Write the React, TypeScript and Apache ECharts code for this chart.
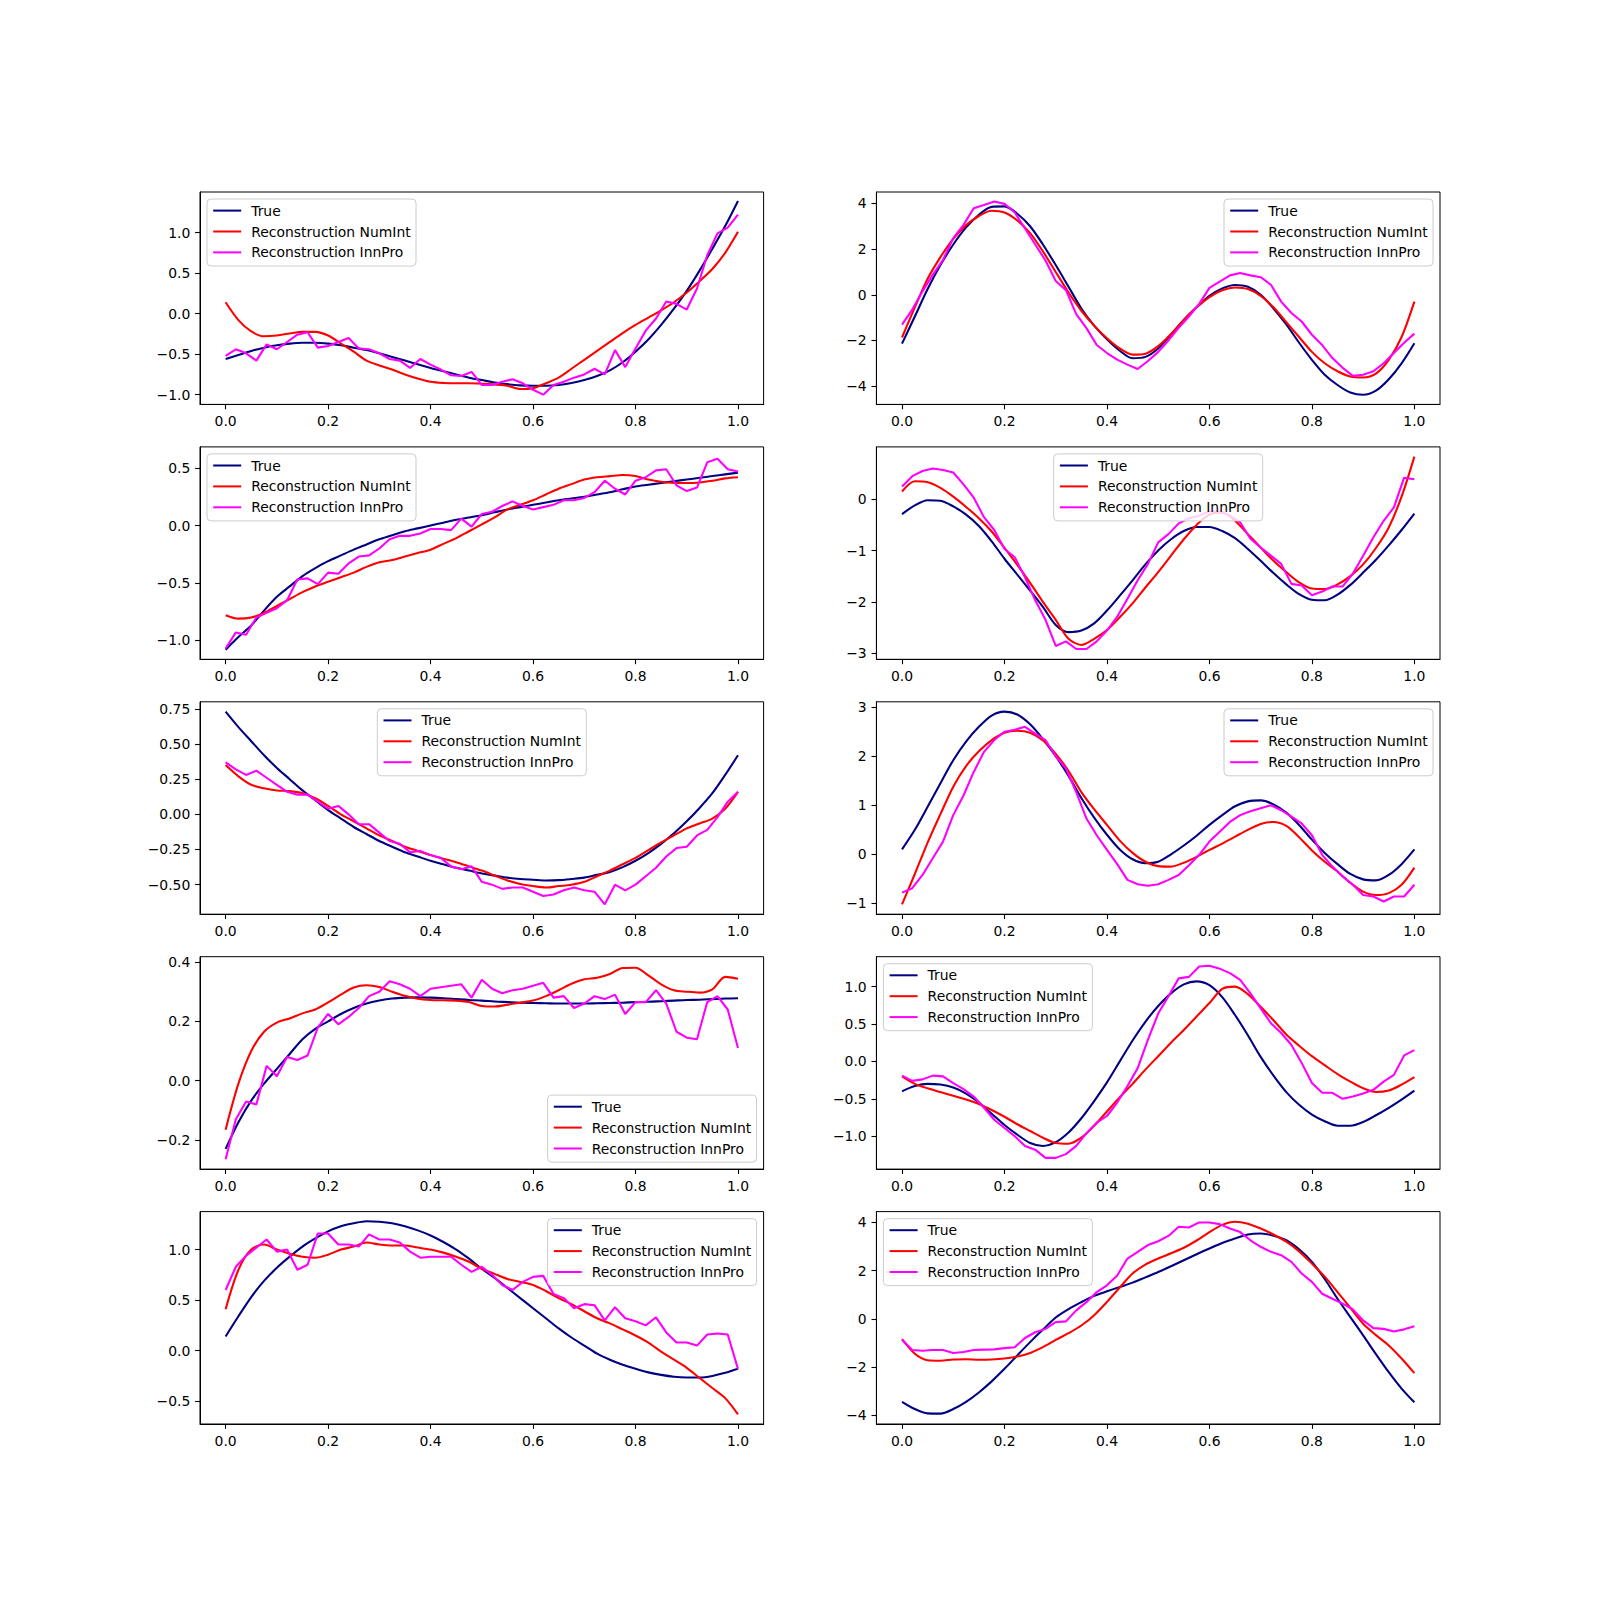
import React, { useEffect, useRef } from "react";
import * as echarts from "echarts";

const FONT = "DejaVu Sans";
const NAMES = ["True", "Reconstruction NumInt", "Reconstruction InnPro"];
const COLORS = ["#000080", "#ff0000", "#ff00ff"];

const X_SMOOTH = [0, 0.025, 0.05, 0.075, 0.1, 0.125, 0.15, 0.175, 0.2, 0.225, 0.25, 0.275, 0.3, 0.325, 0.35, 0.375, 0.4, 0.425, 0.45, 0.475, 0.5, 0.525, 0.55, 0.575, 0.6, 0.625, 0.65, 0.675, 0.7, 0.725, 0.75, 0.775, 0.8, 0.825, 0.85, 0.875, 0.9, 0.925, 0.95, 0.975, 1.0];
const X_NOISY = [0, 0.02, 0.04, 0.06, 0.08, 0.1, 0.12, 0.14, 0.16, 0.18, 0.2, 0.22, 0.24, 0.26, 0.28, 0.3, 0.32, 0.34, 0.36, 0.38, 0.4, 0.42, 0.44, 0.46, 0.48, 0.5, 0.52, 0.54, 0.56, 0.58, 0.6, 0.62, 0.64, 0.66, 0.68, 0.7, 0.72, 0.74, 0.76, 0.78, 0.8, 0.82, 0.84, 0.86, 0.88, 0.9, 0.92, 0.94, 0.96, 0.98, 1.0];
const X_TICKS = [0, 0.2, 0.4, 0.6, 0.8, 1.0];
const X_TICK_LABELS = ["0.0", "0.2", "0.4", "0.6", "0.8", "1.0"];

// Subplot 1
const true1 = [-0.56, -0.51, -0.46, -0.42, -0.39, -0.37, -0.36, -0.36, -0.37, -0.39, -0.42, -0.45, -0.49, -0.535, -0.58, -0.625, -0.67, -0.71, -0.75, -0.79, -0.82, -0.85, -0.87, -0.885, -0.89, -0.89, -0.88, -0.855, -0.82, -0.77, -0.70, -0.60, -0.47, -0.32, -0.14, 0.06, 0.28, 0.53, 0.80, 1.08, 1.39];
const num1 = [0.14, -0.08, -0.22, -0.28, -0.27, -0.245, -0.225, -0.225, -0.27, -0.37, -0.47, -0.58, -0.64, -0.69, -0.75, -0.80, -0.84, -0.855, -0.86, -0.86, -0.865, -0.875, -0.89, -0.93, -0.92, -0.86, -0.79, -0.68, -0.57, -0.46, -0.35, -0.24, -0.14, -0.05, 0.04, 0.14, 0.26, 0.40, 0.55, 0.75, 1.01];
const inn1 = [-0.52, -0.44, -0.49, -0.58, -0.38, -0.44, -0.35, -0.26, -0.23, -0.42, -0.40, -0.35, -0.30, -0.43, -0.44, -0.49, -0.56, -0.58, -0.67, -0.56, -0.63, -0.69, -0.76, -0.77, -0.72, -0.88, -0.88, -0.84, -0.81, -0.86, -0.94, -1.00, -0.88, -0.84, -0.79, -0.75, -0.68, -0.75, -0.45, -0.66, -0.43, -0.21, -0.06, 0.15, 0.12, 0.05, 0.31, 0.72, 0.99, 1.06, 1.22];
const yTicks1 = [-1, -0.5, 0, 0.5, 1];
const yLabels1 = ["\u22121.0", "\u22120.5", "0.0", "0.5", "1.0"];

// Subplot 2
const true2 = [-2.14, -0.95, 0.25, 1.3, 2.2, 2.95, 3.5, 3.85, 3.87, 3.55, 3.0, 2.2, 1.3, 0.35, -0.6, -1.35, -1.95, -2.45, -2.78, -2.72, -2.35, -1.75, -1.1, -0.55, -0.05, 0.28, 0.43, 0.35, 0.0, -0.6, -1.3, -2.1, -2.85, -3.5, -3.95, -4.28, -4.38, -4.2, -3.7, -3.0, -2.12];
const num2 = [-1.87, -0.55, 0.7, 1.65, 2.45, 3.05, 3.45, 3.68, 3.6, 3.25, 2.7, 1.9, 1.0, 0.1, -0.7, -1.35, -1.9, -2.35, -2.62, -2.58, -2.25, -1.72, -1.1, -0.55, -0.1, 0.2, 0.32, 0.25, -0.05, -0.55, -1.2, -1.85, -2.5, -3.0, -3.35, -3.58, -3.62, -3.45, -2.85, -1.85, -0.3];
const inn2 = [-1.31, -0.65, 0.15, 0.87, 1.53, 2.48, 3.06, 3.79, 3.93, 4.08, 3.98, 3.6, 2.9, 2.2, 1.5, 0.6, 0.2, -0.85, -1.46, -2.2, -2.55, -2.84, -3.06, -3.25, -2.9, -2.5, -2.0, -1.45, -0.95, -0.4, 0.3, 0.58, 0.85, 0.95, 0.85, 0.77, 0.44, -0.3, -0.8, -1.17, -1.75, -2.2, -2.77, -3.2, -3.55, -3.5, -3.35, -3.0, -2.55, -2.1, -1.7];
const yTicks2 = [-4, -2, 0, 2, 4];
const yLabels2 = ["\u22124", "\u22122", "0", "2", "4"];

// Subplot 3
const true3 = [-1.08, -0.97, -0.87, -0.74, -0.62, -0.53, -0.44, -0.37, -0.31, -0.26, -0.21, -0.165, -0.12, -0.085, -0.05, -0.025, 0.0, 0.025, 0.05, 0.07, 0.09, 0.115, 0.14, 0.16, 0.18, 0.2, 0.22, 0.235, 0.25, 0.27, 0.29, 0.315, 0.34, 0.355, 0.37, 0.385, 0.40, 0.415, 0.43, 0.445, 0.46];
const num3 = [-0.78, -0.81, -0.80, -0.76, -0.70, -0.64, -0.58, -0.53, -0.49, -0.45, -0.41, -0.36, -0.32, -0.30, -0.27, -0.24, -0.21, -0.16, -0.11, -0.05, 0.01, 0.07, 0.14, 0.18, 0.22, 0.27, 0.32, 0.36, 0.40, 0.42, 0.43, 0.44, 0.43, 0.40, 0.38, 0.37, 0.37, 0.375, 0.39, 0.41, 0.42];
const inn3 = [-1.07, -0.93, -0.95, -0.80, -0.76, -0.72, -0.65, -0.47, -0.46, -0.51, -0.41, -0.42, -0.33, -0.27, -0.26, -0.20, -0.12, -0.09, -0.09, -0.07, -0.03, -0.03, -0.04, 0.06, -0.01, 0.10, 0.12, 0.17, 0.21, 0.17, 0.14, 0.16, 0.18, 0.22, 0.22, 0.24, 0.29, 0.39, 0.32, 0.27, 0.39, 0.42, 0.48, 0.49, 0.35, 0.30, 0.33, 0.55, 0.58, 0.49, 0.47];
const yTicks3 = [-1, -0.5, 0, 0.5];
const yLabels3 = ["\u22121.0", "\u22120.5", "0.0", "0.5"];

// Subplot 4
const true4 = [-0.29, -0.12, -0.02, -0.03, -0.14, -0.3, -0.52, -0.82, -1.16, -1.47, -1.78, -2.1, -2.45, -2.59, -2.56, -2.42, -2.17, -1.88, -1.58, -1.27, -1.0, -0.78, -0.62, -0.54, -0.54, -0.62, -0.76, -0.97, -1.2, -1.44, -1.66, -1.85, -1.96, -1.97, -1.86, -1.67, -1.43, -1.18, -0.9, -0.6, -0.28];
const num4 = [0.15, 0.35, 0.33, 0.22, 0.05, -0.15, -0.37, -0.63, -0.95, -1.28, -1.63, -2.0, -2.35, -2.72, -2.84, -2.72, -2.55, -2.3, -2.03, -1.72, -1.42, -1.1, -0.78, -0.5, -0.3, -0.26, -0.42, -0.68, -0.94, -1.2, -1.42, -1.62, -1.74, -1.75, -1.66, -1.5, -1.27, -0.95, -0.55, 0.05, 0.83];
const inn4 = [0.25, 0.45, 0.55, 0.60, 0.57, 0.52, 0.29, 0.03, -0.35, -0.6, -0.97, -1.13, -1.52, -1.97, -2.35, -2.86, -2.77, -2.92, -2.92, -2.77, -2.56, -2.29, -1.94, -1.58, -1.26, -0.84, -0.68, -0.47, -0.37, -0.32, -0.24, -0.24, -0.32, -0.45, -0.77, -0.94, -1.1, -1.26, -1.65, -1.68, -1.87, -1.8, -1.7, -1.7, -1.45, -1.1, -0.74, -0.42, -0.16, 0.42, 0.39];
const yTicks4 = [-3, -2, -1, 0];
const yLabels4 = ["\u22123", "\u22122", "\u22121", "0"];

// Subplot 5
const true5 = [0.73, 0.62, 0.52, 0.42, 0.33, 0.25, 0.17, 0.10, 0.03, -0.03, -0.09, -0.14, -0.19, -0.23, -0.27, -0.30, -0.33, -0.355, -0.38, -0.40, -0.42, -0.435, -0.45, -0.46, -0.465, -0.47, -0.468, -0.46, -0.45, -0.43, -0.41, -0.375, -0.33, -0.275, -0.21, -0.135, -0.05, 0.045, 0.15, 0.28, 0.42];
const num5 = [0.35, 0.27, 0.21, 0.185, 0.17, 0.165, 0.15, 0.115, 0.06, 0.0, -0.05, -0.10, -0.15, -0.19, -0.23, -0.26, -0.29, -0.315, -0.34, -0.37, -0.40, -0.435, -0.47, -0.495, -0.51, -0.52, -0.51, -0.50, -0.48, -0.44, -0.40, -0.355, -0.31, -0.255, -0.20, -0.15, -0.10, -0.065, -0.03, 0.04, 0.16];
const inn5 = [0.37, 0.32, 0.28, 0.31, 0.26, 0.21, 0.16, 0.14, 0.14, 0.09, 0.04, 0.06, 0.0, -0.07, -0.07, -0.13, -0.19, -0.21, -0.27, -0.26, -0.29, -0.31, -0.37, -0.39, -0.37, -0.48, -0.50, -0.53, -0.52, -0.52, -0.55, -0.58, -0.57, -0.54, -0.52, -0.54, -0.55, -0.64, -0.50, -0.54, -0.50, -0.44, -0.38, -0.30, -0.24, -0.23, -0.15, -0.11, -0.02, 0.09, 0.16];
const yTicks5 = [-0.5, -0.25, 0, 0.25, 0.5, 0.75];
const yLabels5 = ["\u22120.50", "\u22120.25", "0.00", "0.25", "0.50", "0.75"];

// Subplot 6
const true6 = [0.1, 0.5, 0.97, 1.45, 1.92, 2.3, 2.6, 2.83, 2.91, 2.85, 2.65, 2.35, 2.0, 1.6, 1.15, 0.75, 0.4, 0.1, -0.1, -0.18, -0.15, 0.0, 0.18, 0.38, 0.6, 0.8, 0.98, 1.08, 1.1, 1.02, 0.85, 0.6, 0.3, 0.03, -0.2, -0.4, -0.51, -0.53, -0.42, -0.2, 0.1];
const num6 = [-1.02, -0.4, 0.24, 0.82, 1.38, 1.8, 2.1, 2.33, 2.48, 2.52, 2.48, 2.32, 2.05, 1.7, 1.27, 0.92, 0.6, 0.28, 0.03, -0.15, -0.24, -0.25, -0.17, -0.05, 0.09, 0.22, 0.36, 0.5, 0.62, 0.66, 0.58, 0.35, 0.08, -0.15, -0.35, -0.58, -0.76, -0.83, -0.79, -0.62, -0.27];
const inn6 = [-0.78, -0.69, -0.42, -0.08, 0.26, 0.8, 1.2, 1.68, 2.09, 2.33, 2.5, 2.54, 2.6, 2.46, 2.33, 2.0, 1.75, 1.27, 0.73, 0.39, 0.09, -0.2, -0.52, -0.61, -0.64, -0.61, -0.52, -0.42, -0.22, -0.01, 0.26, 0.46, 0.66, 0.8, 0.88, 0.94, 1.0, 0.9, 0.77, 0.63, 0.39, -0.01, -0.25, -0.45, -0.62, -0.83, -0.86, -0.96, -0.86, -0.86, -0.62];
const yTicks6 = [-1, 0, 1, 2, 3];
const yLabels6 = ["\u22121", "0", "1", "2", "3"];

// Subplot 7
const true7 = [-0.23, -0.14, -0.067, -0.01, 0.04, 0.09, 0.14, 0.175, 0.20, 0.225, 0.245, 0.26, 0.27, 0.277, 0.28, 0.281, 0.28, 0.278, 0.275, 0.272, 0.27, 0.267, 0.265, 0.263, 0.262, 0.261, 0.26, 0.26, 0.26, 0.261, 0.262, 0.263, 0.265, 0.266, 0.268, 0.27, 0.272, 0.273, 0.275, 0.277, 0.278];
const num7 = [-0.165, -0.01, 0.10, 0.165, 0.196, 0.21, 0.227, 0.24, 0.264, 0.29, 0.314, 0.322, 0.316, 0.30, 0.286, 0.276, 0.272, 0.271, 0.27, 0.265, 0.252, 0.25, 0.256, 0.263, 0.27, 0.285, 0.305, 0.327, 0.342, 0.347, 0.36, 0.38, 0.381, 0.355, 0.325, 0.305, 0.30, 0.297, 0.308, 0.35, 0.344];
const inn7 = [-0.265, -0.13, -0.07, -0.08, 0.05, 0.015, 0.08, 0.07, 0.085, 0.18, 0.225, 0.19, 0.215, 0.245, 0.285, 0.30, 0.335, 0.325, 0.31, 0.285, 0.31, 0.315, 0.32, 0.325, 0.28, 0.34, 0.31, 0.295, 0.305, 0.31, 0.32, 0.33, 0.28, 0.285, 0.245, 0.26, 0.285, 0.275, 0.29, 0.225, 0.265, 0.265, 0.305, 0.26, 0.165, 0.145, 0.14, 0.265, 0.285, 0.24, 0.11];
const yTicks7 = [-0.2, 0, 0.2, 0.4];
const yLabels7 = ["\u22120.2", "0.0", "0.2", "0.4"];

// Subplot 8
const true8 = [-0.40, -0.33, -0.30, -0.31, -0.35, -0.43, -0.55, -0.70, -0.85, -0.98, -1.09, -1.13, -1.08, -0.95, -0.76, -0.53, -0.28, 0.0, 0.28, 0.53, 0.74, 0.91, 1.03, 1.07, 1.02, 0.86, 0.62, 0.35, 0.06, -0.19, -0.41, -0.58, -0.71, -0.80, -0.86, -0.86, -0.81, -0.72, -0.62, -0.51, -0.39];
const num8 = [-0.20, -0.30, -0.36, -0.41, -0.46, -0.51, -0.57, -0.65, -0.74, -0.84, -0.93, -1.02, -1.09, -1.10, -1.02, -0.86, -0.67, -0.48, -0.3, -0.11, 0.07, 0.25, 0.42, 0.6, 0.78, 0.97, 1.0, 0.9, 0.73, 0.55, 0.36, 0.21, 0.07, -0.05, -0.17, -0.27, -0.36, -0.41, -0.39, -0.31, -0.21];
const inn8 = [-0.19, -0.26, -0.24, -0.19, -0.2, -0.29, -0.37, -0.47, -0.62, -0.78, -0.89, -1.0, -1.13, -1.18, -1.29, -1.29, -1.24, -1.13, -0.96, -0.82, -0.73, -0.55, -0.33, -0.09, 0.29, 0.64, 0.87, 1.11, 1.13, 1.27, 1.28, 1.24, 1.18, 1.09, 0.91, 0.71, 0.51, 0.38, 0.22, -0.02, -0.29, -0.42, -0.42, -0.5, -0.47, -0.43, -0.38, -0.27, -0.18, 0.08, 0.15];
const yTicks8 = [-1, -0.5, 0, 0.5, 1];
const yLabels8 = ["\u22121.0", "\u22120.5", "0.0", "0.5", "1.0"];

// Subplot 9
const true9 = [0.14, 0.34, 0.53, 0.69, 0.82, 0.93, 1.03, 1.11, 1.18, 1.23, 1.26, 1.28, 1.275, 1.26, 1.23, 1.19, 1.14, 1.075, 1.0, 0.91, 0.81, 0.72, 0.62, 0.52, 0.42, 0.32, 0.22, 0.13, 0.05, -0.03, -0.09, -0.14, -0.18, -0.215, -0.24, -0.258, -0.265, -0.265, -0.25, -0.22, -0.18];
const num9 = [0.41, 0.8, 1.0, 1.05, 1.0, 0.96, 0.93, 0.92, 0.95, 1.0, 1.03, 1.07, 1.05, 1.04, 1.04, 1.02, 1.0, 0.97, 0.93, 0.88, 0.81, 0.76, 0.71, 0.68, 0.65, 0.59, 0.52, 0.46, 0.39, 0.32, 0.27, 0.21, 0.15, 0.08, -0.01, -0.09, -0.17, -0.27, -0.37, -0.47, -0.63];
const inn9 = [0.60, 0.83, 0.94, 1.02, 1.10, 0.98, 1.00, 0.80, 0.85, 1.16, 1.16, 1.05, 1.05, 1.03, 1.15, 1.10, 1.10, 1.07, 0.98, 0.92, 0.93, 0.93, 0.93, 0.85, 0.78, 0.83, 0.75, 0.65, 0.60, 0.68, 0.73, 0.74, 0.56, 0.52, 0.42, 0.46, 0.45, 0.30, 0.43, 0.32, 0.29, 0.25, 0.33, 0.18, 0.08, 0.08, 0.05, 0.16, 0.17, 0.16, -0.18];
const yTicks9 = [-0.5, 0, 0.5, 1];
const yLabels9 = ["\u22120.5", "0.0", "0.5", "1.0"];

// Subplot 10
const true10 = [-3.45, -3.75, -3.93, -3.94, -3.75, -3.45, -3.06, -2.6, -2.08, -1.52, -0.97, -0.45, 0.05, 0.4, 0.69, 0.95, 1.14, 1.32, 1.5, 1.72, 1.94, 2.18, 2.43, 2.68, 2.92, 3.15, 3.33, 3.5, 3.54, 3.45, 3.26, 2.88, 2.36, 1.65, 0.83, 0.07, -0.69, -1.47, -2.22, -2.9, -3.47];
const num10 = [-0.85, -1.45, -1.72, -1.74, -1.69, -1.68, -1.70, -1.69, -1.65, -1.57, -1.42, -1.18, -0.88, -0.6, -0.28, 0.15, 0.7, 1.3, 1.88, 2.25, 2.5, 2.72, 2.95, 3.25, 3.6, 3.9, 4.03, 3.95, 3.75, 3.5, 3.2, 2.8, 2.29, 1.75, 1.11, 0.45, -0.21, -0.68, -1.11, -1.65, -2.26];
const inn10 = [-0.87, -1.3, -1.33, -1.3, -1.3, -1.42, -1.38, -1.3, -1.28, -1.27, -1.22, -1.18, -0.8, -0.56, -0.42, -0.14, -0.11, 0.35, 0.69, 1.11, 1.39, 1.8, 2.5, 2.78, 3.06, 3.22, 3.44, 3.82, 3.79, 4.0, 4.0, 3.93, 3.75, 3.6, 3.26, 2.99, 2.78, 2.64, 2.36, 1.88, 1.53, 1.04, 0.83, 0.63, 0.39, -0.07, -0.39, -0.42, -0.53, -0.44, -0.31];
const yTicks10 = [-4, -2, 0, 2, 4];
const yLabels10 = ["\u22124", "\u22122", "0", "2", "4"];

// Layout (matplotlib default subplot geometry at 1600x1600)
const AX_W = 563.6;
const AX_H = 212.4;
const COL_L = [200, 876.4];
const ROW_T = [192, 446.9, 701.8, 956.7, 1211.6];
const LEG_W = 209;
const LEG_H = 67;
const PAD = 7;

const PANELS = [
  { t: true1, n: num1, p: inn1, ymin: -1.12, ymax: 1.5, ticks: yTicks1, labels: yLabels1, loc: "ul" },
  { t: true2, n: num2, p: inn2, ymin: -4.8, ymax: 4.5, ticks: yTicks2, labels: yLabels2, loc: "ur" },
  { t: true3, n: num3, p: inn3, ymin: -1.164, ymax: 0.684, ticks: yTicks3, labels: yLabels3, loc: "ul" },
  { t: true4, n: num4, p: inn4, ymin: -3.12, ymax: 1.02, ticks: yTicks4, labels: yLabels4, loc: "uc" },
  { t: true5, n: num5, p: inn5, ymin: -0.71, ymax: 0.8, ticks: yTicks5, labels: yLabels5, loc: "uc" },
  { t: true6, n: num6, p: inn6, ymin: -1.22, ymax: 3.11, ticks: yTicks6, labels: yLabels6, loc: "ur" },
  { t: true7, n: num7, p: inn7, ymin: -0.298, ymax: 0.418, ticks: yTicks7, labels: yLabels7, loc: "lr" },
  { t: true8, n: num8, p: inn8, ymin: -1.44, ymax: 1.4, ticks: yTicks8, labels: yLabels8, loc: "ul" },
  { t: true9, n: num9, p: inn9, ymin: -0.726, ymax: 1.376, ticks: yTicks9, labels: yLabels9, loc: "ur" },
  { t: true10, n: num10, p: inn10, ymin: -4.37, ymax: 4.45, ticks: yTicks10, labels: yLabels10, loc: "ul" },
];

function zip(xs: number[], ys: number[]) {
  return xs.map((x, i) => [x, ys[i]]);
}

function lookup(v: number, ticks: number[], labels: string[]) {
  for (let i = 0; i < ticks.length; i++) {
    if (Math.abs(ticks[i] - v) < 1e-9) return labels[i];
  }
  return "";
}

function buildOption() {
  const grid: any[] = [];
  const xAxis: any[] = [];
  const yAxis: any[] = [];
  const series: any[] = [];
  const legend: any[] = [];
  const graphic: any[] = [];

  PANELS.forEach((pn, i) => {
    const col = i % 2;
    const row = Math.floor(i / 2);
    const axL = COL_L[col];
    const axT = ROW_T[row];
    grid.push({
      left: axL,
      top: axT,
      width: AX_W,
      height: AX_H,
      show: true,
      borderColor: "#000",
      borderWidth: 1,
      backgroundColor: "transparent",
      containLabel: false,
    });
    xAxis.push({
      type: "value",
      gridIndex: i,
      min: -0.05,
      max: 1.05,
      axisLine: { show: true, onZero: false, lineStyle: { color: "#000", width: 1 } },
      axisTick: { show: true, length: 4.9, lineStyle: { color: "#000", width: 1.1 }, customValues: X_TICKS },
      axisLabel: {
        show: true,
        customValues: X_TICKS,
        formatter: (v: number) => lookup(v, X_TICKS, X_TICK_LABELS),
        margin: 9.7,
        color: "#000",
        fontSize: 13.9,
        fontFamily: FONT,
      },
      splitLine: { show: false },
    });
    yAxis.push({
      type: "value",
      gridIndex: i,
      min: pn.ymin,
      max: pn.ymax,
      axisLine: { show: true, onZero: false, lineStyle: { color: "#000", width: 1 } },
      axisTick: { show: true, length: 4.9, lineStyle: { color: "#000", width: 1.1 }, customValues: pn.ticks },
      axisLabel: {
        show: true,
        customValues: pn.ticks,
        formatter: (v: number) => lookup(v, pn.ticks, pn.labels),
        margin: 9.7,
        color: "#000",
        fontSize: 13.9,
        fontFamily: FONT,
      },
      splitLine: { show: false },
    });
    const sets = [
      { xs: X_SMOOTH, ys: pn.t, smooth: 0.3 },
      { xs: X_SMOOTH, ys: pn.n, smooth: 0.3 },
      { xs: X_NOISY, ys: pn.p, smooth: false },
    ];
    sets.forEach((s, k) => {
      series.push({
        type: "line",
        name: NAMES[k],
        xAxisIndex: i,
        yAxisIndex: i,
        data: zip(s.xs, s.ys),
        smooth: s.smooth,
        smoothConstraint: false,
        showSymbol: false,
        symbol: "none",
        color: COLORS[k],
        itemStyle: { color: COLORS[k] },
        lineStyle: { color: COLORS[k], width: 2.08 },
        silent: true,
        z: 2,
      });
    });

    let bx = axL + PAD;
    let by = axT + PAD;
    if (pn.loc === "ur" || pn.loc === "lr") bx = axL + AX_W - PAD - LEG_W;
    if (pn.loc === "uc") bx = axL + AX_W / 2 - LEG_W / 2;
    if (pn.loc === "lr") by = axT + AX_H - PAD - LEG_H;

    graphic.push({
      type: "rect",
      shape: { x: bx, y: by, width: LEG_W, height: LEG_H, r: 4 },
      style: { fill: "rgba(255,255,255,0.8)", stroke: "#cccccc", lineWidth: 1 },
      z: 3,
      silent: true,
    });
    legend.push({
      show: true,
      orient: "vertical",
      left: bx + 6.2,
      top: by + 3.6,
      padding: 0,
      itemWidth: 28,
      itemHeight: 2,
      itemGap: 4.9,
      icon: "rect",
      selectedMode: false,
      data: NAMES,
      z: 5,
      textStyle: {
        fontSize: 13.9,
        fontFamily: FONT,
        color: "#000",
        lineHeight: 16,
        padding: [0, 0, 0, 5],
      },
    });
  });

  return {
    animation: false,
    backgroundColor: "#ffffff",
    grid,
    xAxis,
    yAxis,
    series,
    legend,
    graphic: { elements: graphic },
  };
}

export default function App() {
  const ref = useRef<HTMLDivElement>(null);
  useEffect(() => {
    if (!ref.current) return;
    const chart = echarts.init(ref.current, null, { renderer: "svg" });
    chart.setOption(buildOption() as any);
    return () => chart.dispose();
  }, []);
  return (
    <div
      ref={ref}
      style={{ position: "absolute", left: 0, top: 0, width: 1600, height: 1600, background: "#fff" }}
    />
  );
}
